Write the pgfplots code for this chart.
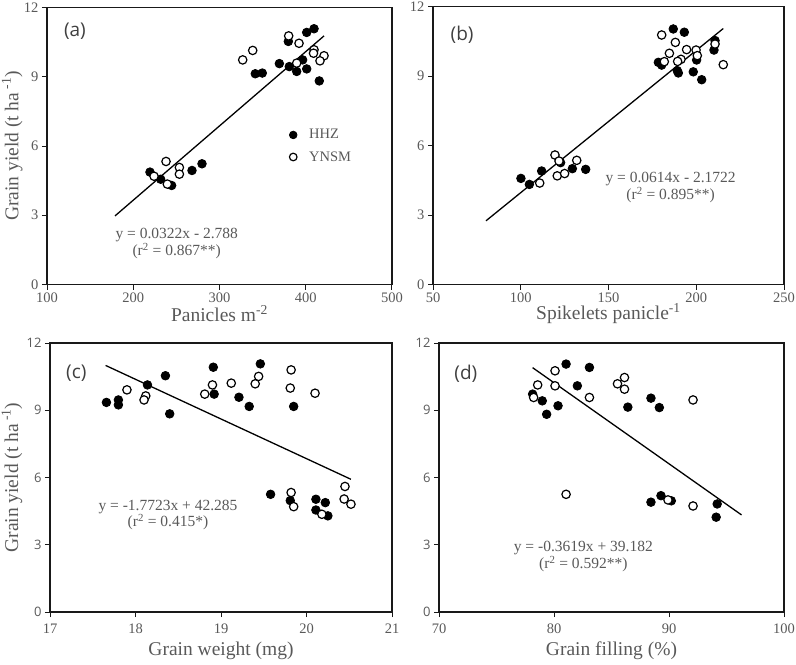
\documentclass[border=0pt]{standalone}
\usepackage{fontspec}
\setmainfont{Liberation Serif}
\newfontfamily\sansf{Open Sans}
\usepackage{pgfplots}
\pgfplotsset{compat=1.18}

\definecolor{txt}{RGB}{89,89,89}
\definecolor{lettr}{RGB}{64,64,64}

\pgfplotsset{
  panel/.style={
    scale only axis,
    ymin=0, ymax=12, ytick={0,3,6,9,12},
    axis line style={black!90, line width=1.5bp},
    tick align=outside, xtick pos=bottom, ytick pos=left,
    major tick length=5bp,
    major tick style={black!90, line width=1bp},
    /pgf/number format/assume math mode=true,
    ticklabel style={font=\fontsize{14.5bp}{16bp}\selectfont, text=txt},
    label style={font=\fontsize{19.5bp}{22bp}\selectfont, text=txt},
    xlabel style={at={(axis description cs:0.5,-0.105)}, anchor=center},
  },
  hhz/.style={only marks, mark=*, black, mark size=4.3bp,
    mark options={fill=black, line width=0.8bp}},
  ynsm/.style={only marks, mark=*, black, mark size=4.2bp,
    mark options={fill=white, line width=1.2bp}},
  fit/.style={black, line width=1.3bp, no marks},
}
\tikzset{eq/.style={font=\fontsize{15.5bp}{17bp}\selectfont, text=txt, inner sep=0pt}}
\newcommand{\letfont}{\sansf\fontsize{19bp}{21bp}\selectfont}

\begin{document}
\begin{tikzpicture}
\path[use as bounding box] (0,0) rectangle (796bp,-665bp);

% (a) panicles
\begin{axis}[panel, at={(47bp,-284.5bp)}, anchor=south west,
  width=345bp, height=277bp,
  xmin=100, xmax=500, xtick={100,200,...,500},
  xlabel={Panicles m\textsuperscript{-2}},
  ylabel={Grain yield (t ha\,\textsuperscript{-1})},
  ylabel style={at={(axis description cs:-0.101,0.5)}, anchor=center},
  legend style={at={(axis description cs:0.69,0.50)}, anchor=west,
    draw=none, fill=none, font=\fontsize{14.5bp}{16bp}\selectfont,
    text=txt, row sep=7bp},
  legend cell align=left,
  legend image code/.code={\path[draw=none, fill=none] (0bp,-3bp) rectangle (19bp,3bp);
    \draw[#1, mark size=3.8bp] plot coordinates {(5bp,0bp)};},
]
\addplot[hhz] coordinates {
  (409.6,11.08) (401.1,10.92) (379.8,10.53) (369.4,9.57) (380.9,9.44)
  (389.5,9.23) (396.4,9.73) (401.1,9.34) (341.5,9.13) (349.6,9.16)
  (415.7,8.82) (219.4,4.87) (231.8,4.56) (244.5,4.29) (268.1,4.94)
  (279.7,5.23)};
\addplot[ynsm] coordinates {
  (380.2,10.77) (392.2,10.45) (409.6,10.17) (409.0,10.02) (338.5,10.14)
  (326.9,9.73) (421.2,9.91) (416.5,9.69) (389.5,9.59) (238.0,5.33)
  (253.5,5.07) (253.5,4.78) (224.1,4.69) (239.5,4.35)};
\addplot[fit, forget plot] coordinates {(178.8,2.97) (421.2,10.77)};
\legend{HHZ, YNSM}
\node[eq] at (axis cs:250.4,2.15) {y = 0.0322x - 2.788};
\node[eq] at (axis cs:250.4,1.45) {(r\textsuperscript{2} = 0.867**)};
\node[font=\letfont, text=lettr] at (rel axis cs:0.081,0.913) {(a)};
\end{axis}

% (b) spikelets
\begin{axis}[panel, at={(433bp,-284.5bp)}, anchor=south west,
  width=351bp, height=278bp,
  xmin=50, xmax=250, xtick={50,100,...,250},
  xlabel={Spikelets panicle\textsuperscript{-1}},
]
\addplot[hhz] coordinates {
  (186.9,11.03) (193.2,10.89) (178.4,9.59) (180.3,9.47) (189.2,9.23)
  (189.8,9.13) (198.3,9.18) (203.1,8.84) (200.2,9.69) (210.1,10.12)
  (210.7,10.53) (100.1,4.58) (104.9,4.32) (111.9,4.90) (122.7,5.26)
  (129.4,5.00) (137.0,4.97)};
\addplot[ynsm] coordinates {
  (180.3,10.77) (188.1,10.45) (184.7,9.98) (194.5,10.14) (199.9,10.12)
  (200.6,9.88) (191.3,9.72) (189.4,9.63) (181.8,9.62) (210.7,10.38)
  (215.4,9.49) (119.5,5.59) (121.8,5.33) (131.9,5.36) (120.8,4.69)
  (125.0,4.79) (110.8,4.38)};
\addplot[fit] coordinates {(80.2,2.75) (215.4,11.05)};
\node[eq] at (axis cs:185.4,4.55) {y = 0.0614x - 2.1722};
\node[eq] at (axis cs:185.4,3.86) {(r\textsuperscript{2} = 0.895**)};
\node[font=\letfont, text=lettr] at (rel axis cs:0.083,0.90) {(b)};
\end{axis}

% (c) grain weight
\begin{axis}[panel, at={(50bp,-612bp)}, anchor=south west,
  width=342bp, height=269bp,
  xmin=17, xmax=21, xtick={17,18,...,21},
  xticklabel style={yshift=-3bp},
  yticklabel style={font=\sansf\fontsize{13bp}{15bp}\selectfont},
  xlabel={Grain weight (mg)},
  xlabel style={at={(axis description cs:0.5,-0.145)}},
  ylabel={Grain yield (t ha\,\textsuperscript{-1})},
  ylabel style={at={(axis description cs:-0.111,0.5)}, anchor=center},
]
\addplot[hhz] coordinates {
  (17.66,9.35) (17.80,9.46) (17.80,9.24) (18.14,10.13) (18.35,10.54)
  (18.40,8.84) (18.91,10.92) (18.92,9.72) (19.21,9.58) (19.33,9.17)
  (19.46,11.07) (19.85,9.17) (19.58,5.25) (19.81,4.97) (20.11,5.03)
  (20.22,4.88) (20.11,4.55) (20.25,4.29)};
\addplot[ynsm] coordinates {
  (17.90,9.91) (18.12,9.64) (18.10,9.46) (18.81,9.72) (18.90,10.13)
  (19.12,10.21) (19.40,10.18) (19.44,10.51) (19.82,10.80) (19.81,9.99)
  (20.10,9.76) (19.82,5.33) (19.85,4.70) (20.18,4.36) (20.45,5.60)
  (20.44,5.04) (20.52,4.81)};
\addplot[fit] coordinates {(17.65,11.0) (20.52,5.92)};
\node[eq] at (axis cs:18.38,4.70) {y = -1.7723x + 42.285};
\node[eq] at (axis cs:18.38,4.01) {(r\textsuperscript{2} = 0.415*)};
\node[font=\letfont, text=lettr] at (rel axis cs:0.077,0.887) {(c)};
\end{axis}

% (d) grain filling
\begin{axis}[panel, at={(439bp,-612bp)}, anchor=south west,
  width=345bp, height=269bp,
  xmin=70, xmax=100, xtick={70,80,90,100},
  xticklabel style={yshift=-3bp},
  yticklabel style={font=\sansf\fontsize{13bp}{15bp}\selectfont},
  xlabel={Grain filling (\%)},
  xlabel style={at={(axis description cs:0.5,-0.145)}},
]
\addplot[hhz] coordinates {
  (81.05,11.06) (83.08,10.91) (82.03,10.09) (78.14,9.72) (78.98,9.42)
  (79.36,8.82) (80.35,9.20) (86.42,9.14) (88.43,9.54) (89.16,9.12)
  (88.43,4.90) (89.30,5.19) (90.20,4.96) (94.19,4.82) (94.10,4.23)};
\addplot[ynsm] coordinates {
  (80.09,10.76) (78.58,10.13) (80.09,10.09) (78.23,9.57) (83.08,9.57)
  (85.52,10.18) (86.13,10.46) (86.13,9.94) (92.09,9.46) (81.05,5.25)
  (89.91,5.00) (92.09,4.73)};
\addplot[fit] coordinates {(78.14,10.9) (96.31,4.33)};
\node[eq] at (axis cs:82.55,2.84) {y = -0.3619x + 39.182};
\node[eq] at (axis cs:82.55,2.13) {(r\textsuperscript{2} = 0.592**)};
\node[font=\letfont, text=lettr] at (rel axis cs:0.078,0.885) {(d)};
\end{axis}
\end{tikzpicture}
\end{document}
